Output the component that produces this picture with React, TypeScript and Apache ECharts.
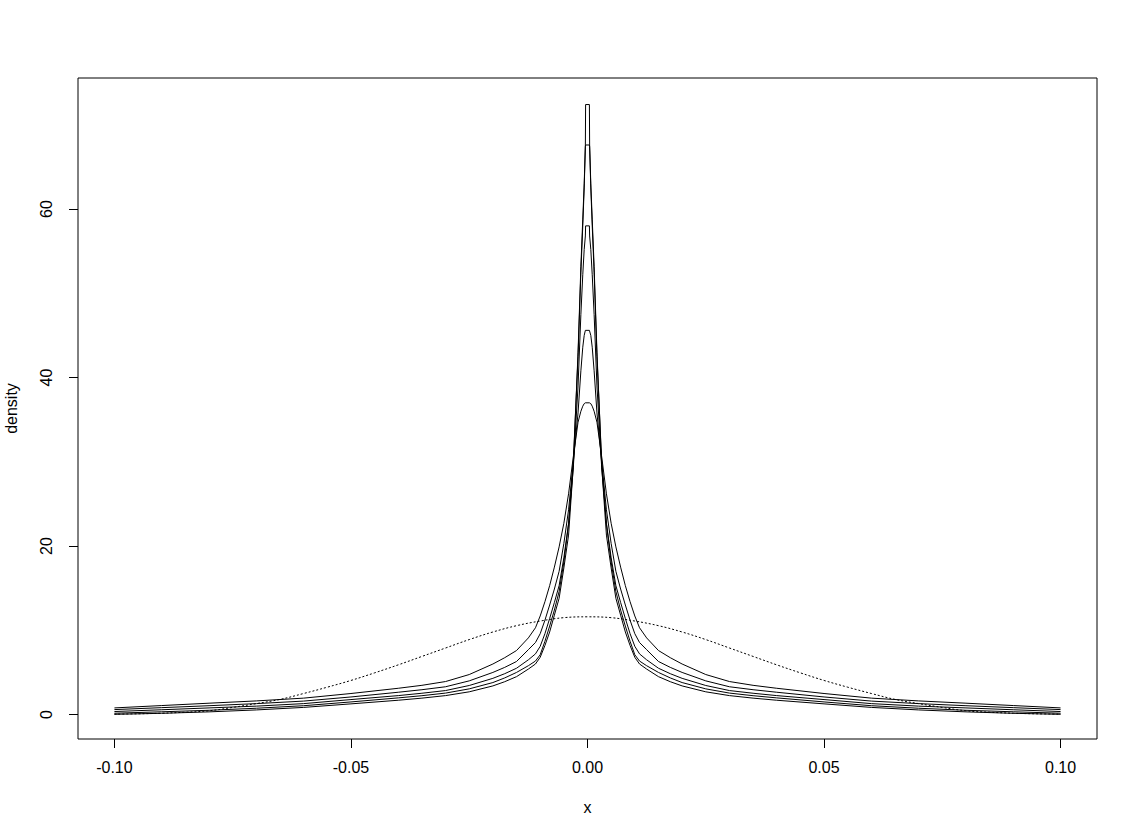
import React, { useEffect, useRef } from "react";
import * as echarts from "echarts";

// shared x grid for the five heavy-tailed curves
const xs = [
  -0.1, -0.09, -0.08, -0.07, -0.06, -0.05, -0.04, -0.035, -0.03, -0.025, -0.02, -0.0175,
  -0.015, -0.0125, -0.011, -0.01, -0.009, -0.008, -0.007, -0.006, -0.005, -0.004, -0.003, -0.002,
  -0.0014, -0.001, -0.0007, -0.00045, -0.0004,
  0.0004, 0.00045, 0.0007, 0.001, 0.0014,
  0.002, 0.003, 0.004, 0.005, 0.006, 0.007, 0.008, 0.009, 0.01, 0.011, 0.0125, 0.015,
  0.0175, 0.02, 0.025, 0.03, 0.035, 0.04, 0.05, 0.06, 0.07, 0.08, 0.09, 0.1,
];

const curveA = [
  0.79, 1.07, 1.35, 1.62, 1.95, 2.5, 3.12, 3.47, 3.92, 4.75, 6.0, 6.75,
  7.6, 9.1, 10.3, 11.7, 13.4, 15.3, 17.5, 19.9, 22.7, 26.2, 30.6, 34.7,
  36.0, 36.6, 36.9, 37.0, 37.0,
  37.0, 37.0, 36.9, 36.6, 36.0,
  34.7, 30.6, 26.2, 22.7, 19.9, 17.5, 15.3, 13.4, 11.7, 10.3, 9.1, 7.6,
  6.75, 6.0, 4.75, 3.92, 3.47, 3.12, 2.5, 1.95, 1.62, 1.35, 1.07, 0.79,
];
const curveB = [
  0.59, 0.82, 1.05, 1.3, 1.6, 2.09, 2.65, 2.95, 3.3, 4.0, 5.0, 5.6,
  6.3, 7.7, 8.55, 9.6, 11.2, 13.0, 14.9, 17.0, 20.3, 24.3, 30.0, 35.8,
  40.8, 43.6, 45.0, 45.6, 45.6,
  45.6, 45.6, 45.0, 43.6, 40.8,
  35.8, 30.0, 24.3, 20.3, 17.0, 14.9, 13.0, 11.2, 9.6, 8.55, 7.7, 6.3,
  5.6, 5.0, 4.0, 3.3, 2.95, 2.65, 2.09, 1.6, 1.3, 1.05, 0.82, 0.59,
];
const curveC = [
  0.36, 0.57, 0.79, 1.0, 1.3, 1.78, 2.25, 2.53, 2.85, 3.45, 4.3, 4.85,
  5.5, 6.5, 7.2, 8.1, 9.6, 11.4, 13.3, 15.3, 18.6, 22.7, 29.3, 39.0,
  47.5, 52.2, 55.2, 56.8, 58.0,
  58.0, 56.8, 55.2, 52.2, 47.5,
  39.0, 29.3, 22.7, 18.6, 15.3, 13.3, 11.4, 9.6, 8.1, 7.2, 6.5, 5.5,
  4.85, 4.3, 3.45, 2.85, 2.53, 2.25, 1.78, 1.3, 1.0, 0.79, 0.57, 0.36,
];
const curveD = [
  0.16, 0.33, 0.51, 0.75, 1.05, 1.5, 1.98, 2.24, 2.55, 3.05, 3.8, 4.35,
  5.0, 5.8, 6.35, 7.1, 8.7, 10.5, 12.4, 14.6, 18.1, 22.6, 30.0, 42.5,
  52.5, 58.0, 62.5, 67.4, 67.6,
  67.6, 67.4, 62.5, 58.0, 52.5,
  42.5, 30.0, 22.6, 18.1, 14.6, 12.4, 10.5, 8.7, 7.1, 6.35, 5.8, 5.0,
  4.35, 3.8, 3.05, 2.55, 2.24, 1.98, 1.5, 1.05, 0.75, 0.51, 0.33, 0.16,
];
const curveE = [
  0.03, 0.15, 0.32, 0.55, 0.85, 1.27, 1.7, 1.95, 2.25, 2.7, 3.4, 3.9,
  4.5, 5.4, 6.0, 6.8, 8.2, 9.8, 11.8, 13.8, 17.4, 21.3, 29.5, 43.0,
  53.2, 58.8, 63.0, 67.6, 72.4,
  72.4, 67.6, 63.0, 58.8, 53.2,
  43.0, 29.5, 21.3, 17.4, 13.8, 11.8, 9.8, 8.2, 6.8, 6.0, 5.4, 4.5,
  3.9, 3.4, 2.7, 2.25, 1.95, 1.7, 1.27, 0.85, 0.55, 0.32, 0.15, 0.03,
];

// dotted normal-looking curve
const xsNormal = [
  -0.1, -0.095, -0.09, -0.085, -0.08, -0.075, -0.07, -0.065, -0.06, -0.055, -0.05,
  -0.045, -0.04, -0.035, -0.03, -0.025, -0.02, -0.015, -0.01, -0.005, 0,
  0.005, 0.01, 0.015, 0.02, 0.025, 0.03, 0.035, 0.04, 0.045, 0.05,
  0.055, 0.06, 0.065, 0.07, 0.075, 0.08, 0.085, 0.09, 0.095, 0.1,
];
const normalCurve = [
  0.05, 0.09, 0.16, 0.28, 0.45, 0.85, 1.3, 1.8, 2.5, 3.25, 4.05,
  4.95, 5.9, 6.9, 7.9, 8.9, 9.8, 10.55, 11.1, 11.5, 11.6,
  11.5, 11.1, 10.55, 9.8, 8.9, 7.9, 6.9, 5.9, 4.95, 4.05,
  3.25, 2.5, 1.8, 1.3, 0.85, 0.45, 0.28, 0.16, 0.09, 0.05,
];

const xTicks = [-0.1, -0.05, 0, 0.05, 0.1];
const yTicks = [0, 20, 40, 60];

const FONT = "'Liberation Sans', Arial, sans-serif";

export default function App() {
  const ref = useRef<HTMLDivElement>(null);
  useEffect(() => {
    if (!ref.current) return;
    const chart = echarts.init(ref.current, undefined, { renderer: "svg" });
    const solid = [curveA, curveB, curveC, curveD, curveE].map((ys, i) => ({
      type: "line" as const,
      name: "c" + i,
      data: xs.map((x, j) => [x, ys[j]]),
      showSymbol: false,
      symbol: "none",
      lineStyle: { color: "#000", width: 1 },
      silent: true,
    }));
    chart.setOption({
      animation: false,
      backgroundColor: "#fff",
      textStyle: { fontFamily: FONT },
      grid: {
        left: 78,
        top: 78,
        width: 1019,
        height: 661,
        show: true,
        borderColor: "#000",
        borderWidth: 1,
        backgroundColor: "transparent",
        outerBoundsMode: "none",
        containLabel: false,
      },
      xAxis: {
        type: "value",
        min: -0.1077,
        max: 0.1077,
        name: "x",
        nameLocation: "middle",
        nameGap: 60,
        nameTextStyle: { color: "#000", fontSize: 16, fontFamily: FONT },
        axisLine: { show: false, onZero: false },
        splitLine: { show: false },
        axisTick: {
          show: true,
          inside: false,
          length: 9,
          lineStyle: { color: "#000", width: 1 },
          customValues: xTicks,
        },
        axisLabel: {
          show: true,
          margin: 20,
          color: "#000",
          fontSize: 16,
          fontFamily: FONT,
          customValues: xTicks,
          formatter: (v: number) => v.toFixed(2),
        },
      },
      yAxis: {
        type: "value",
        min: -2.9,
        max: 75.55,
        name: "density",
        nameLocation: "middle",
        nameGap: 59,
        nameRotate: 90,
        nameTextStyle: { color: "#000", fontSize: 16, fontFamily: FONT },
        axisLine: { show: false, onZero: false },
        splitLine: { show: false },
        axisTick: {
          show: true,
          inside: false,
          length: 9,
          lineStyle: { color: "#000", width: 1 },
          customValues: yTicks,
        },
        axisLabel: {
          show: true,
          rotate: 90,
          margin: 24,
          color: "#000",
          fontSize: 16,
          fontFamily: FONT,
          customValues: yTicks,
        },
      },
      series: [
        ...solid,
        {
          type: "line",
          name: "normal",
          data: xsNormal.map((x, j) => [x, normalCurve[j]]),
          showSymbol: false,
          symbol: "none",
          smooth: 0.4,
          lineStyle: { color: "#000", width: 1, type: [2, 2] },
          silent: true,
        },
      ],
    });
    return () => chart.dispose();
  }, []);
  return (
    <div
      ref={ref}
      style={{ position: "absolute", left: 0, top: 0, width: 1138, height: 837, background: "#fff" }}
    />
  );
}
